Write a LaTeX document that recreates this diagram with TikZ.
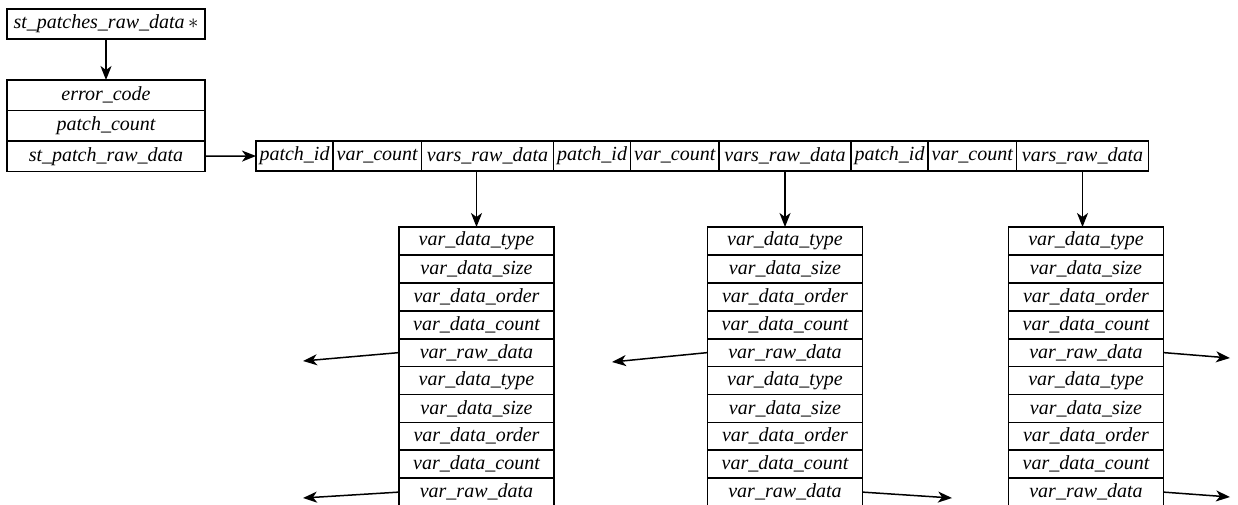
\documentclass[tikz,border=0pt]{standalone}
\usepackage{fontspec}
\setmainfont{Liberation Serif}
\usetikzlibrary{arrows.meta}
\begin{document}
\begin{tikzpicture}[x=1pt,y=-1pt,
  cell/.style={draw, line width=1.6pt, inner sep=0pt, outer sep=0pt,
    anchor=north west, font=\fontsize{20}{22}\selectfont\itshape},
  ptr/.style={line width=1.5pt, -{Stealth[length=14pt,width=11pt,inset=4pt]}}]
\useasboundingbox (0,0) rectangle (1238,504);
\clip (0,0) rectangle (1238,504);

% pointer to the patches structure
\node[cell, minimum width=198, minimum height=30] (head) at (7,9) {st\_patches\_raw\_data$\,\ast$};

% patches structure
\node[cell, minimum width=198, minimum height=30.5] (err) at (7,80) {error\_code};
\node[cell, minimum width=198, minimum height=30.5] (pcount) at (7,110.5) {patch\_count};
\node[cell, minimum width=198, minimum height=30.5] (praw) at (7,141) {st\_patch\_raw\_data};

% array of patches
\foreach \g in {0,1,2} {
  \pgfmathsetmacro{\xo}{256+297.5*\g}
  \node[cell, minimum width=77, minimum height=30] (pid\g) at (\xo,141) {patch\_id};
  \node[cell, minimum width=88.5, minimum height=30] (vc\g) at (\xo+77,141) {var\_count};
  \node[cell, minimum width=132, minimum height=30] (vrd\g) at (\xo+165.5,141) {vars\_raw\_data};
}

% variable records of each patch
\foreach \b/\xl in {0/399, 1/707.5, 2/1008.5} {
  \foreach \t [count=\i] in {var\_data\_type, var\_data\_size, var\_data\_order,
      var\_data\_count, var\_raw\_data, var\_data\_type, var\_data\_size,
      var\_data\_order, var\_data\_count, var\_raw\_data} {
    \node[cell, minimum width=155, minimum height=28] (v\b r\i) at (\xl,{227+27.9*(\i-1)}) {\t};
  }
}

% free ends of the data pointers
\coordinate (l0a) at (303,361);
\coordinate (l0b) at (303,498);
\coordinate (l1a) at (612,362);
\coordinate (r1b) at (952,498);
\coordinate (r2a) at (1230,358);
\coordinate (r2b) at (1230,497);

% connectors
\draw[ptr] (head.south) -- (err.north);
\draw[ptr] (praw.east) -- (pid0.west);
\draw[ptr] (vrd0.south -| v0r1.north) -- (v0r1.north);
\draw[ptr] (vrd1.south -| v1r1.north) -- (v1r1.north);
\draw[ptr] (vrd2.south) -- (vrd2.south |- v2r1.north);

\draw[ptr] (v0r5.west) -- (l0a);
\draw[ptr] (v0r10.west) -- (l0b);
\draw[ptr] (v1r5.west) -- (l1a);
\draw[ptr] (v1r10.east) -- (r1b);
\draw[ptr] (v2r5.east) -- (r2a);
\draw[ptr] (v2r10.east) -- (r2b);
\end{tikzpicture}
\end{document}
